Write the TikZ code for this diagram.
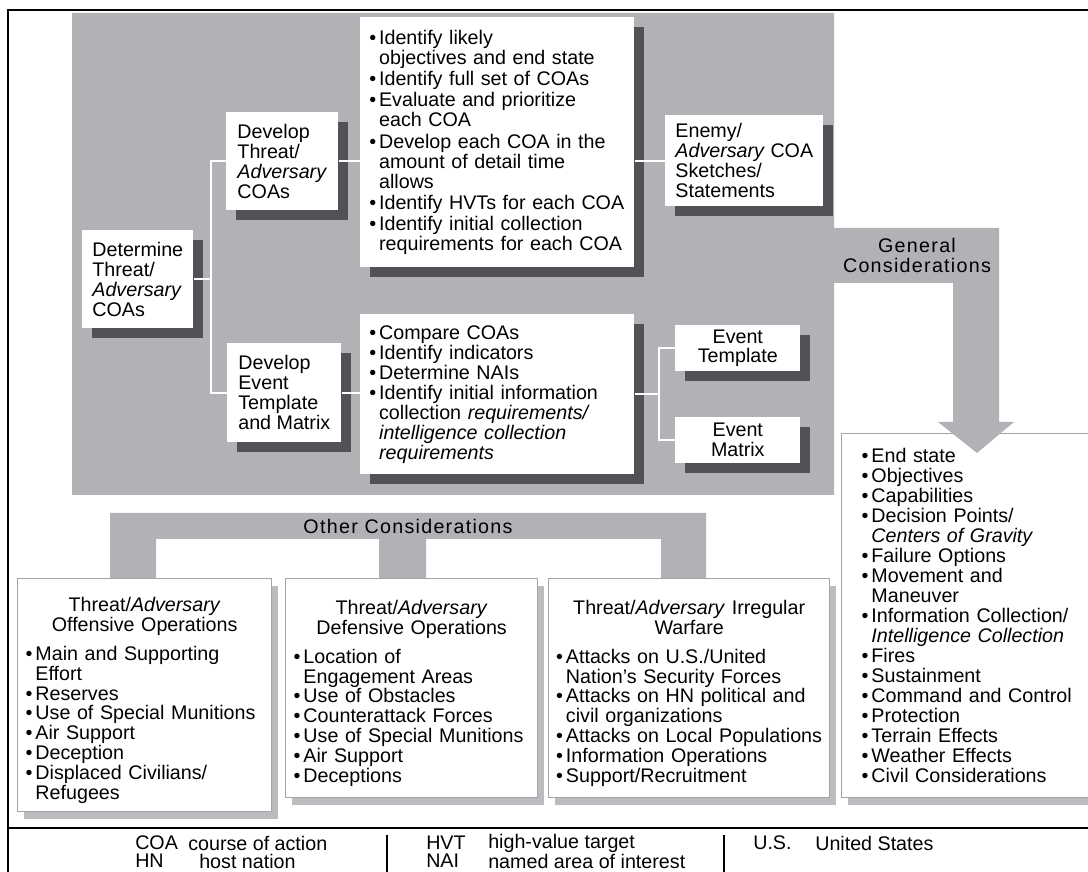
\documentclass[tikz,border=0pt]{standalone}
\usepackage{fontspec}
\setmainfont{Liberation Sans}
\newfontfamily\spaced[LetterSpace=6.5]{Liberation Sans}
\usetikzlibrary{positioning,shadows}
\definecolor{panelgray}{HTML}{B1B2B6}
\definecolor{shadowgray}{HTML}{525256}
\definecolor{liteedge}{HTML}{A3A4A8}
\definecolor{liteshadow}{HTML}{BBBCBF}
\newcommand{\boxfont}{\fontsize{14}{14.2}\selectfont}
\newcommand{\bl}{\textbullet\hspace{.15em}}
\newcommand{\cont}{\hphantom{\bl}}
\newcommand{\boxtitle}[1]{\makebox[\hsize]{#1}}
\newcommand{\toppad}{\rule{0pt}{18pt}}
\tikzset{
  darkbox/.style={
    rectangle, fill=white, anchor=north west, align=left,
    inner sep=0pt, font=\boxfont,
    drop shadow={shadow xshift=0.25cm, shadow yshift=-0.25cm,
      fill=shadowgray, opacity=1}
  },
  listbox/.style={darkbox, inner xsep=0.15cm},
  litebox/.style={
    rectangle, fill=white, draw=liteedge, line width=0.9pt,
    anchor=north west, align=left, inner xsep=0.15cm, inner ysep=0pt,
    font=\boxfont,
    drop shadow={shadow xshift=0.16cm, shadow yshift=-0.18cm,
      fill=liteshadow, opacity=1}
  },
  linkline/.style={draw=white, line width=1.3pt},
  framerule/.style={draw=black, line width=1.8pt},
  legtext/.style={anchor=west, inner sep=0pt, font=\boxfont},
  bartext/.style={align=center, inner sep=0pt, font=\spaced\boxfont},
}

\begin{document}
\begin{tikzpicture}[x=0.025cm, y=-0.025cm]
  \useasboundingbox (0,0) rectangle (1088,872);

  % general considerations list (the arrow runs over its top edge)
  \node[litebox, text width=5.5cm, minimum width=6.5cm, minimum height=9.1cm] (gen) at (841,433)
    {\bl End state\\
     \bl Objectives\\
     \bl Capabilities\\
     \bl Decision Points/\\
     \cont\textit{Centers of Gravity}\\
     \bl Failure Options\\
     \bl Movement and\\
     \cont Maneuver\\
     \bl Information Collection/\\
     \cont\textit{Intelligence Collection}\\
     \bl Fires\\
     \bl Sustainment\\
     \bl Command and Control\\
     \bl Protection\\
     \bl Terrain Effects\\
     \bl Weather Effects\\
     \bl Civil Considerations};

  % shaded panel with its arrow
  \fill[panelgray] (72,13) -- (834,13) -- (834,228) -- (999,228) -- (999,422)
    -- (1014,422) -- (977,453) -- (938,422) -- (953,422) -- (953,283)
    -- (834,283) -- (834,495) -- (72,495) -- cycle;
  \node[bartext] (gentxt) at (917,255) {General\\Considerations};

  % other considerations bar
  \fill[panelgray] (110,578) -- (110,513) -- (706,513) -- (706,578) -- (661,578)
    -- (661,539) -- (426,539) -- (426,578) -- (379,578) -- (379,539)
    -- (156,539) -- (156,578) -- cycle;
  \node[bartext] (othtxt) at (408,526) {Other Considerations};

  % panel nodes
  \node[darkbox, minimum width=2.775cm, minimum height=2.45cm] (det) at (82,230)
    {Determine\\Threat/\\\textit{Adversary}\\COAs};
  \node[darkbox, minimum width=2.8cm, minimum height=2.45cm] (dthr) at (226,112)
    {Develop\\Threat/\\\textit{Adversary}\\COAs};
  \node[listbox, text width=6.4cm, minimum width=6.85cm, minimum height=6.25cm] (lst1) at (360,17)
    {\bl Identify likely\\
     \cont objectives and end state\\[1pt]
     \bl Identify full set of COAs\\[1pt]
     \bl Evaluate and prioritize\\
     \cont each COA\\[1pt]
     \bl Develop each COA in the\\
     \cont amount of detail time\\
     \cont allows\\[1pt]
     \bl Identify HVTs for each COA\\[1pt]
     \bl Identify initial collection\\
     \cont requirements for each COA};
  \node[darkbox, minimum width=3.95cm, minimum height=2.275cm] (enemy) at (665,115)
    {Enemy/\\\textit{Adversary} COA\\Sketches/\\Statements};
  \node[darkbox, minimum width=2.85cm, minimum height=2.475cm] (devt) at (227,343)
    {Develop\\Event\\Template\\and Matrix};
  \node[listbox, text width=6.4cm, minimum width=6.85cm, minimum height=4cm] (lst2) at (360,314)
    {\bl Compare COAs\\
     \bl Identify indicators\\
     \bl Determine NAIs\\
     \bl Identify initial information\\
     \cont collection \textit{requirements/}\\
     \cont\textit{intelligence collection}\\
     \cont\textit{requirements}};
  \node[darkbox, align=center, minimum width=3.125cm, minimum height=1.15cm] (etmp) at (675,325)
    {Event\\Template};
  \node[darkbox, align=center, minimum width=3.125cm, minimum height=1.15cm] (emat) at (675,417)
    {Event\\Matrix};

  % connectors
  \draw[linkline] (det.east) -- ++(17,0) coordinate (jl);
  \foreach \n in {dthr,devt}
    \draw[linkline] (jl) |- (\n.west);
  \draw[linkline] (dthr.east) -- (dthr.east -| lst1.west);
  \draw[linkline] (enemy.west -| lst1.east) -- (enemy.west);
  \draw[linkline] (devt.east) -- (devt.east -| lst2.west);
  \draw[linkline] (lst2.east) -- ++(24,0) coordinate (jr);
  \foreach \n in {etmp,emat}
    \draw[linkline] (jr) |- (\n.west);

  % lower boxes
  \node[litebox, text width=5.95cm, minimum width=6.35cm, minimum height=5.825cm] (off) at (17,578)
    {\boxtitle{\toppad Threat/\textit{Adversary}}\\
     \boxtitle{Offensive Operations}\\[6pt]
     \bl Main and Supporting\\
     \cont Effort\\
     \bl Reserves\\
     \bl Use of Special Munitions\\
     \bl Air Support\\
     \bl Deception\\
     \bl Displaced Civilians/\\
     \cont Refugees};
  \node[litebox, text width=5.9cm, minimum width=6.3cm, minimum height=5.475cm] (dfn) at (285,578)
    {\boxtitle{\toppad Threat/\textit{Adversary}}\\
     \boxtitle{Defensive Operations}\\[6pt]
     \bl Location of\\
     \cont Engagement Areas\\
     \bl Use of Obstacles\\
     \bl Counterattack Forces\\
     \bl Use of Special Munitions\\
     \bl Air Support\\
     \bl Deceptions};
  \node[litebox, text width=6.65cm, minimum width=7.025cm, minimum height=5.475cm] (irr) at (548,578)
    {\boxtitle{\toppad Threat/\textit{Adversary} Irregular}\\
     \boxtitle{Warfare}\\[6pt]
     \bl Attacks on U.S./United\\
     \cont Nation’s Security Forces\\
     \bl Attacks on HN political and\\
     \cont civil organizations\\
     \bl Attacks on Local Populations\\
     \bl Information Operations\\
     \bl Support/Recruitment};

  % frame and legend
  \draw[framerule] (8,872) -- (8,10) -- (1088,10);
  \draw[framerule] (8,828) -- (1088,828);
  \draw[line width=1.2pt] (387,835) -- (387,872);
  \draw[line width=1.2pt] (724,835) -- (724,872);
  \node[legtext] (coa) at (135,843) {COA};
  \node[legtext] (coadef) at (188,843) {course of action};
  \node[legtext] (hn) at (135,861) {HN};
  \node[legtext] (hndef) at (199,861) {host nation};
  \node[legtext] (hvt) at (426,843) {HVT};
  \node[legtext] (hvtdef) at (488,843) {high-value target};
  \node[legtext] (nai) at (426,861) {NAI};
  \node[legtext] (naidef) at (488,861) {named area of interest};
  \node[legtext] (us) at (753,843) {U.S.};
  \node[legtext] (usdef) at (815,843) {United States};
\end{tikzpicture}
\end{document}
